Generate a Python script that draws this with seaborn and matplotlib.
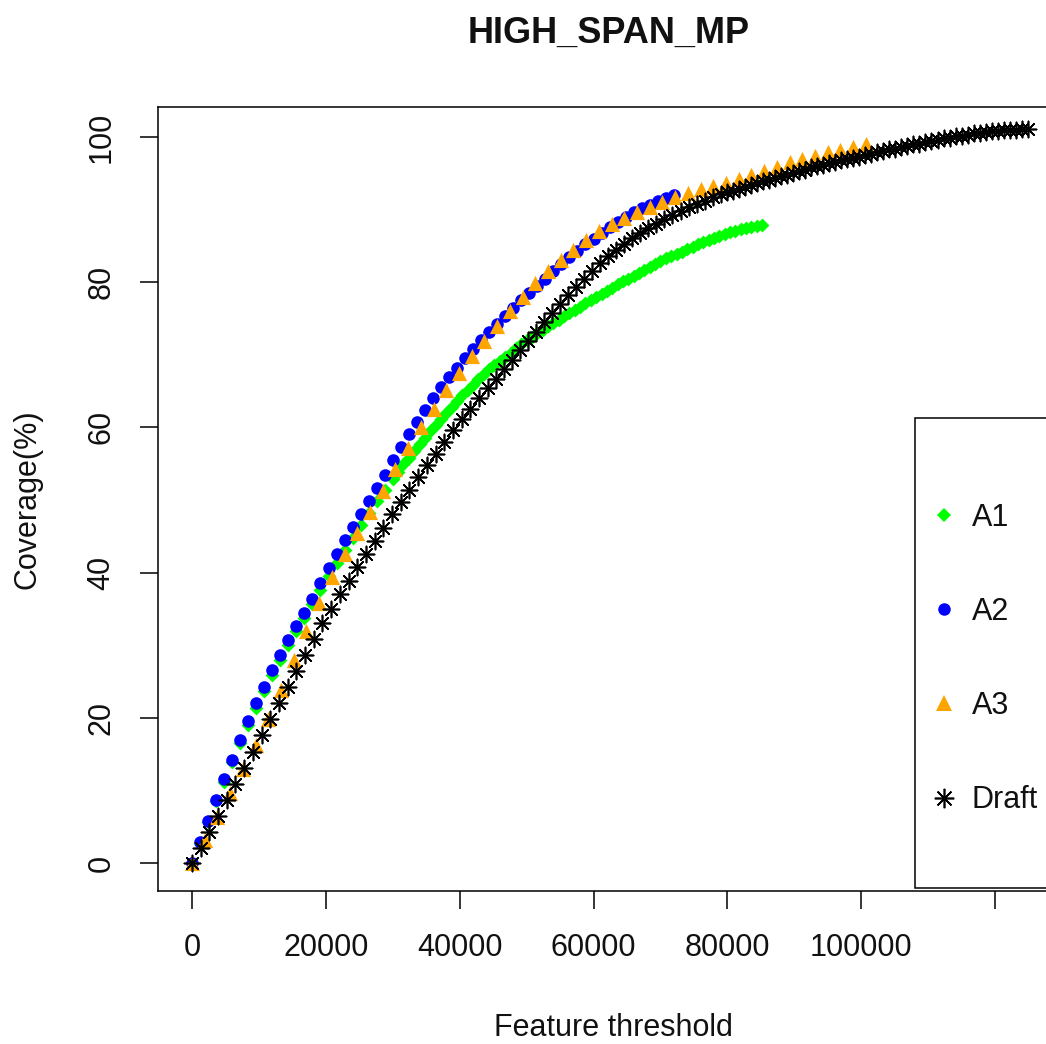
import numpy as np
import pandas as pd
import matplotlib
matplotlib.use("Agg")
import matplotlib.pyplot as plt
from matplotlib.lines import Line2D
from matplotlib.patches import Rectangle
import seaborn as sns

# ---------------- data (x in thousands of features, y = coverage %) ----------------
a1_x_k = [0, 1.2, 2.4, 3.6, 4.8, 6.0, 7.2, 8.4, 9.6, 10.8, 12.0, 13.2, 14.4, 15.6, 16.8,
          18.0, 19.2, 20.4, 21.6, 22.8, 24.0, 25.2, 26.4, 27.6, 28.8, 30.0,
          30.8, 31.6, 32.4, 33.2, 34.0, 34.8, 35.6, 36.4, 37.2, 38.0,
          38.8, 39.6, 40.4, 41.2, 42.0, 42.8, 43.6, 44.4, 45.2, 46.0,
          46.8, 47.6, 48.4, 49.2, 50.0, 50.8, 51.6, 52.4, 53.2, 54.0,
          54.8, 55.6, 56.4, 57.2, 58.0, 58.8, 59.6, 60.4, 61.2, 62.0,
          62.8, 63.6, 64.4, 65.2, 66.0, 66.8, 67.6, 68.4, 69.2, 70.0,
          70.8, 71.6, 72.4, 73.2, 74.0, 74.8, 75.6, 76.4, 77.2, 78.0,
          78.8, 79.6, 80.4, 81.2, 82.0, 82.8, 83.6, 84.4, 85.2]
a1_y = [0, 2.8, 5.7, 8.5, 11.2, 13.9, 16.5, 19.0, 21.4, 23.7, 25.9, 28.0, 30.0, 31.9, 33.8,
        35.7, 37.6, 39.5, 41.3, 43.1, 44.8, 46.5, 48.2, 49.8, 51.4, 52.9,
        53.9, 54.9, 55.8, 56.8, 57.7, 58.6, 59.5, 60.3, 61.2, 62.0,
        62.8, 63.6, 64.4, 65.1, 65.9, 66.6, 67.3, 68.0, 68.6, 69.2,
        69.7, 70.3, 70.9, 71.5, 72.0, 72.5, 73.0, 73.4, 73.9, 74.4,
        74.8, 75.3, 75.7, 76.2, 76.6, 77.1, 77.5, 78.0, 78.4, 78.8,
        79.2, 79.7, 80.1, 80.5, 80.9, 81.3, 81.7, 82.1, 82.5, 82.9,
        83.3, 83.6, 83.9, 84.2, 84.6, 84.9, 85.2, 85.5, 85.8, 86.1,
        86.4, 86.6, 86.9, 87.1, 87.3, 87.5, 87.6, 87.8, 87.9]

a2_x_k = [0, 1.2, 2.4, 3.6, 4.8, 6.0, 7.2, 8.4, 9.6, 10.8,
          12.0, 13.2, 14.4, 15.6, 16.8, 18.0, 19.2, 20.4, 21.6, 22.8,
          24.0, 25.2, 26.4, 27.6, 28.8, 30.0, 31.2, 32.4, 33.6, 34.8,
          36.0, 37.2, 38.4, 39.6, 40.8, 42.0, 43.2, 44.4, 45.6, 46.8,
          48.0, 49.2, 50.4, 51.6, 52.8, 54.0, 55.2, 56.4, 57.6, 58.8,
          60.0, 61.2, 62.4, 63.6, 64.8, 66.0, 67.2, 68.4, 69.6, 70.8, 72.0]
a2_y = [0, 2.9, 5.8, 8.7, 11.5, 14.2, 16.9, 19.5, 22.0, 24.3,
        26.6, 28.7, 30.7, 32.6, 34.5, 36.4, 38.5, 40.6, 42.6, 44.5,
        46.3, 48.1, 49.9, 51.7, 53.5, 55.5, 57.3, 59.1, 60.8, 62.4,
        64.0, 65.5, 66.9, 68.2, 69.5, 70.8, 72.0, 73.2, 74.3, 75.4,
        76.5, 77.5, 78.5, 79.5, 80.5, 81.5, 82.5, 83.4, 84.3, 85.2,
        86.0, 86.8, 87.6, 88.3, 89.0, 89.6, 90.2, 90.7, 91.2, 91.6, 92.0]

a3_x_k = [0, 1.9, 3.8, 5.7, 7.6, 9.5, 11.4, 13.3, 15.2, 17.1,
          19.0, 20.9, 22.8, 24.7, 26.6, 28.5, 30.4, 32.3, 34.2, 36.1,
          38.0, 39.9, 41.8, 43.7, 45.6, 47.5, 49.4, 51.3, 53.2, 55.1,
          57.0, 58.9, 60.8, 62.7, 64.6, 66.5, 68.4, 70.3, 72.2, 74.1,
          76.0, 77.9, 79.8, 81.7, 83.6, 85.5, 87.4, 89.3, 91.2, 93.1,
          95.0, 96.9, 98.8, 100.7]
a3_y = [0, 3.2, 6.4, 9.6, 12.9, 16.3, 19.8, 23.8, 28.0, 32.0,
        35.8, 39.4, 42.6, 45.4, 48.3, 51.3, 54.3, 57.2, 60.0, 62.6,
        65.1, 67.5, 69.8, 71.9, 74.0, 76.0, 78.0, 79.9, 81.6, 83.1,
        84.5, 85.8, 87.0, 88.0, 88.9, 89.7, 90.4, 91.0, 91.7, 92.3,
        92.8, 93.3, 93.7, 94.2, 94.8, 95.3, 95.9, 96.5, 96.9, 97.4,
        97.9, 98.2, 98.6, 99.0]

draft_x_k = [0, 1.3, 2.6, 3.9, 5.2, 6.5, 7.8, 9.1, 10.4, 11.7,
             13.0, 14.3, 15.6, 16.9, 18.2, 19.5, 20.8, 22.1, 23.4, 24.7,
             26.0, 27.3, 28.6, 29.9, 31.2, 32.5, 33.8, 35.1, 36.4, 37.7,
             39.0, 40.3, 41.6, 42.9, 44.2,
             45.4, 46.6, 47.8, 49.0, 50.2, 51.4, 52.6, 53.8, 55.0, 56.2,
             57.4, 58.6, 59.8, 61.0, 62.2, 63.4, 64.6, 65.8, 67.0, 68.2,
             69.4, 70.6, 71.8, 73.0, 74.2, 75.4, 76.6, 77.8, 79.0,
             79.9, 80.8, 81.7, 82.6, 83.5, 84.4, 85.3, 86.2, 87.1, 88.0,
             88.9, 89.8, 90.7, 91.6, 92.5, 93.4, 94.3, 95.2, 96.1, 97.0,
             97.9, 98.8, 99.7, 100.6, 101.5, 102.4, 103.3, 104.2, 105.1, 106.0,
             106.9, 107.8, 108.7, 109.6, 110.5, 111.4, 112.3, 113.2, 114.1, 115.0,
             115.9, 116.8, 117.7, 118.6, 119.5, 120.4, 121.3, 122.2, 123.1, 124.0, 124.9]
draft_y = [0, 2.0, 4.3, 6.5, 8.7, 10.9, 13.1, 15.3, 17.6, 19.9,
           22.1, 24.3, 26.5, 28.7, 30.9, 33.0, 35.0, 37.0, 38.9, 40.8,
           42.6, 44.4, 46.2, 48.0, 49.7, 51.4, 53.1, 54.8, 56.4, 58.0,
           59.6, 61.1, 62.6, 64.0, 65.4,
           66.7, 68.0, 69.3, 70.6, 71.9, 73.2, 74.5, 75.8, 77.0, 78.2,
           79.4, 80.5, 81.6, 82.6, 83.6, 84.5, 85.3, 86.1, 86.8, 87.5,
           88.0, 88.7, 89.3, 89.8, 90.3, 90.8, 91.2, 91.7, 92.1,
           92.4, 92.6, 92.9, 93.1, 93.4, 93.6, 93.9, 94.1, 94.4, 94.6,
           94.8, 95.0, 95.3, 95.5, 95.8, 96.0, 96.2, 96.4, 96.6, 96.8,
           96.9, 97.1, 97.3, 97.5, 97.7, 97.9, 98.1, 98.3, 98.4, 98.6,
           98.8, 99.0, 99.1, 99.3, 99.5, 99.6, 99.8, 99.9, 100.1, 100.2,
           100.3, 100.5, 100.6, 100.7, 100.8, 100.8, 100.9, 101.0, 101.0, 101.1, 101.1]

series_names = ["A1", "A2", "A3", "Draft"]
series_colors = ["#00FF00", "#0000FF", "#FFA500", "#000000"]
x_ticks = [0, 20000, 40000, 60000, 80000, 100000, 120000]
x_tick_labels = ["0", "20000", "40000", "60000", "80000", "100000", ""]
y_ticks = [0, 20, 40, 60, 80, 100]
y_tick_labels = ["0", "20", "40", "60", "80", "100"]

# ---------------- figure ----------------
sns.set_style("white")
plt.rcParams["font.family"] = ["Liberation Sans", "DejaVu Sans"]

W, H = 1046, 1044
fig = plt.figure(figsize=(W / 100, H / 100), dpi=100)
ax = fig.add_axes([158 / W, 1 - 891 / H, (1068 - 158) / W, (891 - 107) / H])

asterisk = (8, 2, 0)
styles = [("D", 50, 0.0), ("o", 82, 0.0), ("^", 120, 0.0), (asterisk, 135, 1.2)]
xs = [a1_x_k, a2_x_k, a3_x_k, draft_x_k]
ys = [a1_y, a2_y, a3_y, draft_y]

for i, (name, col) in enumerate(zip(series_names, series_colors)):
    df = pd.DataFrame({"x": np.asarray(xs[i]) * 1000, "y": ys[i]})
    m, s, lw = styles[i]
    if lw > 0:
        sns.scatterplot(data=df, x="x", y="y", marker=m, s=s, color=col,
                        linewidth=lw, edgecolor=col, ax=ax, zorder=3 + i, legend=False)
    else:
        sns.scatterplot(data=df, x="x", y="y", marker=m, s=s, color=col,
                        linewidth=0, ax=ax, zorder=3 + i, legend=False)

ax.set_xlim(-5080, 130900)
ax.set_ylim(-3.86, 104.13)

ax.set_xticks(x_ticks)
ax.set_xticklabels(x_tick_labels)
ax.set_yticks(y_ticks)
ax.set_yticklabels(y_tick_labels, rotation=90, va="center")
ax.tick_params(axis="both", direction="out", length=13, width=1.1, pad=17,
               labelsize=22, bottom=True, left=True, colors="black", labelcolor="#111111")

for sp in ax.spines.values():
    sp.set_visible(True)
    sp.set_color("black")
    sp.set_linewidth(1.1)

ax.set_xlabel("Feature threshold", fontsize=22, color="#111111")
ax.set_ylabel("Coverage(%)", fontsize=22, color="#111111")
ax.xaxis.set_label_coords(0.5, -0.155)
ax.yaxis.set_label_coords(-0.127, 0.5)

fig.text(609 / W, 1 - 33 / H, "HIGH_SPAN_MP", ha="center", va="center",
         fontsize=26, fontweight="bold", color="#111111")

# legend (figure level so it sits above the frame)
frame = Rectangle((915 / W, 1 - 888 / H), (1080 - 915) / W, (888 - 418) / H,
                  transform=fig.transFigure, facecolor="white", edgecolor="black",
                  linewidth=1.1, clip_on=False)
frame.set_zorder(10)
fig.add_artist(frame)

handles = [
    Line2D([], [], linestyle="none", marker="D", markersize=7, color=series_colors[0], markeredgewidth=0),
    Line2D([], [], linestyle="none", marker="o", markersize=9, color=series_colors[1], markeredgewidth=0),
    Line2D([], [], linestyle="none", marker="^", markersize=11, color=series_colors[2], markeredgewidth=0),
    Line2D([], [], linestyle="none", marker=asterisk, markersize=14, color=series_colors[3], markeredgewidth=1.2),
]
leg = fig.legend(handles, series_names, loc="center left", frameon=False,
                 bbox_to_anchor=(929 / W, 1 - 659 / H), bbox_transform=fig.transFigure,
                 borderpad=0, handlelength=1.0, handletextpad=0.4, labelspacing=2.1,
                 fontsize=22, borderaxespad=0)
leg.set_zorder(20)
for t in leg.get_texts():
    t.set_color("#111111")

fig.savefig("out.png", dpi=100)
